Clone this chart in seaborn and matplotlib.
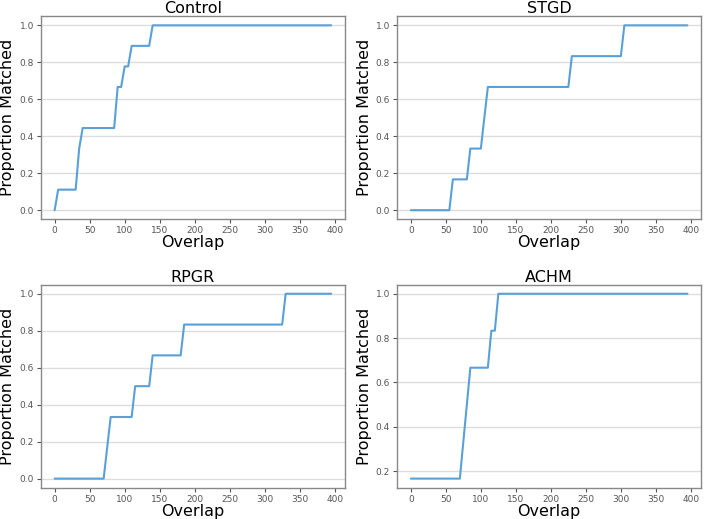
import numpy as np
import pandas as pd
import seaborn as sns
import matplotlib.pyplot as plt

# overlap grid used for the curves
overlap = np.arange(0, 400, 5)

control_thr = [5, 35, 35, 40, 90, 90, 100, 110, 140]
stgd_thr = [60, 85, 105, 110, 230, 305]
rpgr_thr = [75, 80, 115, 140, 185, 330]
achm_thr = [0, 75, 80, 85, 115, 125]

groups = ["Control", "STGD", "RPGR", "ACHM"]
thresholds = [control_thr, stgd_thr, rpgr_thr, achm_thr]
yticks = [
    [0.0, 0.2, 0.4, 0.6, 0.8, 1.0],
    [0.0, 0.2, 0.4, 0.6, 0.8, 1.0],
    [0.0, 0.2, 0.4, 0.6, 0.8, 1.0],
    [0.2, 0.4, 0.6, 0.8, 1.0],
]

sns.set_style("white")
fig, axes = plt.subplots(2, 2, figsize=(7.04, 5.19), dpi=100)
plt.subplots_adjust(left=0.058, right=0.996, top=0.969, bottom=0.06,
                     wspace=0.171, hspace=0.32)

for ax, name, thr, yt in zip(axes.flat, groups, thresholds, yticks):
    thr = np.array(thr)
    prop = [(thr <= o).mean() for o in overlap]
    df = pd.DataFrame({"Overlap": overlap, "Proportion Matched": prop})
    ax.yaxis.grid(True, color="#dddddd", linewidth=1)
    ax.set_axisbelow(True)
    sns.lineplot(x="Overlap", y="Proportion Matched", data=df, ax=ax,
                 color="#5aa0d8", linewidth=1.5)
    ax.set_title(name, fontsize=11.5, pad=2, color="black")
    ax.set_xlabel("Overlap", fontsize=11.5, labelpad=0, color="black")
    ax.set_ylabel("Proportion Matched", fontsize=11.5, labelpad=3,
                  color="black")
    ax.set_xticks(range(0, 401, 50))
    ax.set_yticks(yt)
    ax.margins(x=0.05, y=0.05)
    ax.tick_params(axis="both", labelsize=6.5, colors="#555555",
                   length=3, width=0.8, pad=2, bottom=True, left=True)
    for s in ax.spines.values():
        s.set_color("#888888")
        s.set_linewidth(1)

plt.savefig("out.png", dpi=100)
